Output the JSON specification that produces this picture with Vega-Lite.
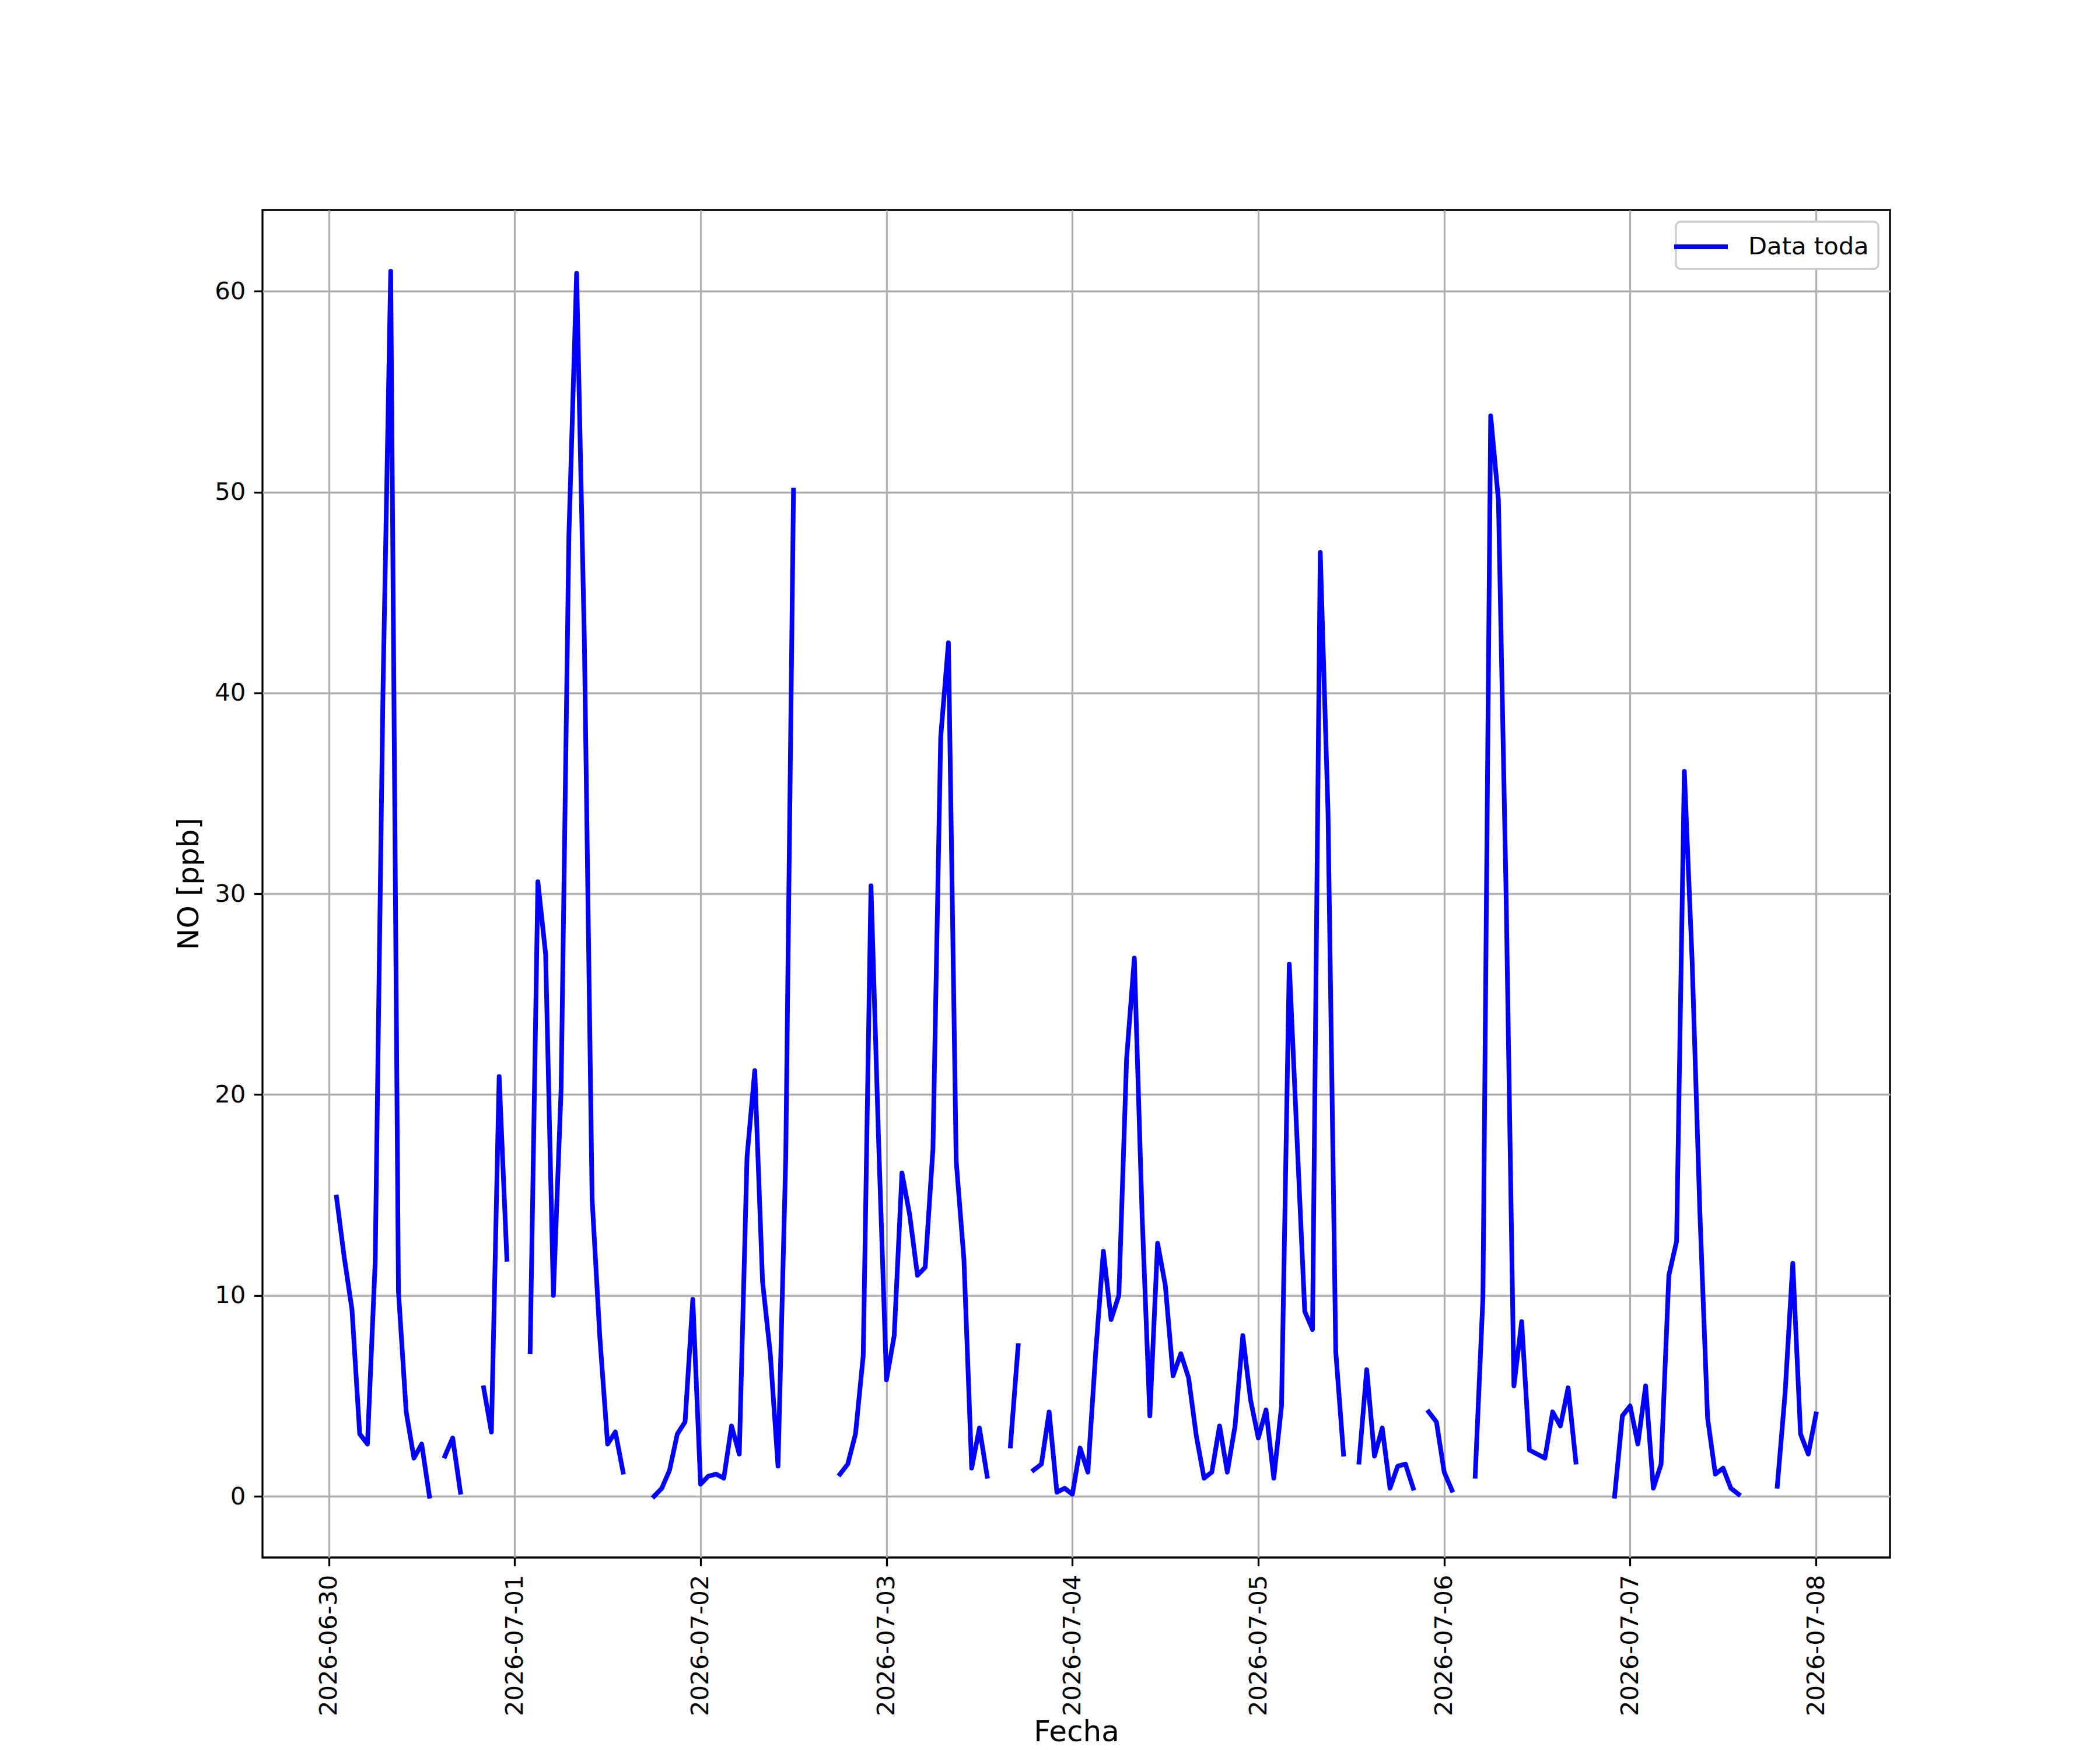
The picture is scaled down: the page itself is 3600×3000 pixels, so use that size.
{
  "$schema": "https://vega.github.io/schema/vega-lite/v6.json",
  "width": 2790,
  "height": 2310,
  "autosize": {"type": "none"},
  "padding": {"left": 450, "top": 360, "right": 360, "bottom": 330},
  "background": "white",
  "data": {"name": "no_data"},
  "datasets": {
    "no_data": [
      {"t": "2026-06-30T01:00", "no": 14.9}, {"t": "2026-06-30T02:00", "no": 11.9}, {"t": "2026-06-30T03:00", "no": 9.3},
      {"t": "2026-06-30T04:00", "no": 3.1}, {"t": "2026-06-30T05:00", "no": 2.6}, {"t": "2026-06-30T06:00", "no": 11.7},
      {"t": "2026-06-30T07:00", "no": 40.0}, {"t": "2026-06-30T08:00", "no": 61.0}, {"t": "2026-06-30T09:00", "no": 10.2},
      {"t": "2026-06-30T10:00", "no": 4.2}, {"t": "2026-06-30T11:00", "no": 1.9}, {"t": "2026-06-30T12:00", "no": 2.6},
      {"t": "2026-06-30T13:00", "no": 0.0}, {"t": "2026-06-30T14:00", "no": null}, {"t": "2026-06-30T15:00", "no": 2.0},
      {"t": "2026-06-30T16:00", "no": 2.9}, {"t": "2026-06-30T17:00", "no": 0.2}, {"t": "2026-06-30T18:00", "no": null},
      {"t": "2026-06-30T19:00", "no": null}, {"t": "2026-06-30T20:00", "no": 5.4}, {"t": "2026-06-30T21:00", "no": 3.2},
      {"t": "2026-06-30T22:00", "no": 20.9}, {"t": "2026-06-30T23:00", "no": 11.8},

      {"t": "2026-07-01T00:00", "no": null}, {"t": "2026-07-01T01:00", "no": null}, {"t": "2026-07-01T02:00", "no": 7.2},
      {"t": "2026-07-01T03:00", "no": 30.6}, {"t": "2026-07-01T04:00", "no": 27.0}, {"t": "2026-07-01T05:00", "no": 10.0},
      {"t": "2026-07-01T06:00", "no": 20.3}, {"t": "2026-07-01T07:00", "no": 47.8}, {"t": "2026-07-01T08:00", "no": 60.9},
      {"t": "2026-07-01T09:00", "no": 42.6}, {"t": "2026-07-01T10:00", "no": 14.8}, {"t": "2026-07-01T11:00", "no": 7.9},
      {"t": "2026-07-01T12:00", "no": 2.6}, {"t": "2026-07-01T13:00", "no": 3.2}, {"t": "2026-07-01T14:00", "no": 1.2},
      {"t": "2026-07-01T15:00", "no": null}, {"t": "2026-07-01T16:00", "no": null}, {"t": "2026-07-01T17:00", "no": null},
      {"t": "2026-07-01T18:00", "no": 0.0}, {"t": "2026-07-01T19:00", "no": 0.4}, {"t": "2026-07-01T20:00", "no": 1.3},
      {"t": "2026-07-01T21:00", "no": 3.1}, {"t": "2026-07-01T22:00", "no": 3.7}, {"t": "2026-07-01T23:00", "no": 9.8},

      {"t": "2026-07-02T00:00", "no": 0.6}, {"t": "2026-07-02T01:00", "no": 1.0}, {"t": "2026-07-02T02:00", "no": 1.1},
      {"t": "2026-07-02T03:00", "no": 0.9}, {"t": "2026-07-02T04:00", "no": 3.5}, {"t": "2026-07-02T05:00", "no": 2.1},
      {"t": "2026-07-02T06:00", "no": 16.9}, {"t": "2026-07-02T07:00", "no": 21.2}, {"t": "2026-07-02T08:00", "no": 10.7},
      {"t": "2026-07-02T09:00", "no": 7.1}, {"t": "2026-07-02T10:00", "no": 1.5}, {"t": "2026-07-02T11:00", "no": 16.9},
      {"t": "2026-07-02T12:00", "no": 50.1}, {"t": "2026-07-02T13:00", "no": null}, {"t": "2026-07-02T14:00", "no": null},
      {"t": "2026-07-02T15:00", "no": null}, {"t": "2026-07-02T16:00", "no": null}, {"t": "2026-07-02T17:00", "no": null},
      {"t": "2026-07-02T18:00", "no": 1.1}, {"t": "2026-07-02T19:00", "no": 1.6}, {"t": "2026-07-02T20:00", "no": 3.1},
      {"t": "2026-07-02T21:00", "no": 7.0}, {"t": "2026-07-02T22:00", "no": 30.4}, {"t": "2026-07-02T23:00", "no": 17.5},

      {"t": "2026-07-03T00:00", "no": 5.8}, {"t": "2026-07-03T01:00", "no": 8.0}, {"t": "2026-07-03T02:00", "no": 16.1},
      {"t": "2026-07-03T03:00", "no": 14.0}, {"t": "2026-07-03T04:00", "no": 11.0}, {"t": "2026-07-03T05:00", "no": 11.4},
      {"t": "2026-07-03T06:00", "no": 17.3}, {"t": "2026-07-03T07:00", "no": 37.8}, {"t": "2026-07-03T08:00", "no": 42.5},
      {"t": "2026-07-03T09:00", "no": 16.7}, {"t": "2026-07-03T10:00", "no": 11.8}, {"t": "2026-07-03T11:00", "no": 1.4},
      {"t": "2026-07-03T12:00", "no": 3.4}, {"t": "2026-07-03T13:00", "no": 1.0}, {"t": "2026-07-03T14:00", "no": null},
      {"t": "2026-07-03T15:00", "no": null}, {"t": "2026-07-03T16:00", "no": 2.5}, {"t": "2026-07-03T17:00", "no": 7.5},
      {"t": "2026-07-03T18:00", "no": null}, {"t": "2026-07-03T19:00", "no": 1.3}, {"t": "2026-07-03T20:00", "no": 1.6},
      {"t": "2026-07-03T21:00", "no": 4.2}, {"t": "2026-07-03T22:00", "no": 0.2}, {"t": "2026-07-03T23:00", "no": 0.4},

      {"t": "2026-07-04T00:00", "no": 0.1}, {"t": "2026-07-04T01:00", "no": 2.4}, {"t": "2026-07-04T02:00", "no": 1.2},
      {"t": "2026-07-04T03:00", "no": 7.1}, {"t": "2026-07-04T04:00", "no": 12.2}, {"t": "2026-07-04T05:00", "no": 8.8},
      {"t": "2026-07-04T06:00", "no": 10.0}, {"t": "2026-07-04T07:00", "no": 21.8}, {"t": "2026-07-04T08:00", "no": 26.8},
      {"t": "2026-07-04T09:00", "no": 14.0}, {"t": "2026-07-04T10:00", "no": 4.0}, {"t": "2026-07-04T11:00", "no": 12.6},
      {"t": "2026-07-04T12:00", "no": 10.5}, {"t": "2026-07-04T13:00", "no": 6.0}, {"t": "2026-07-04T14:00", "no": 7.1},
      {"t": "2026-07-04T15:00", "no": 5.9}, {"t": "2026-07-04T16:00", "no": 3.0}, {"t": "2026-07-04T17:00", "no": 0.9},
      {"t": "2026-07-04T18:00", "no": 1.2}, {"t": "2026-07-04T19:00", "no": 3.5}, {"t": "2026-07-04T20:00", "no": 1.2},
      {"t": "2026-07-04T21:00", "no": 3.5}, {"t": "2026-07-04T22:00", "no": 8.0}, {"t": "2026-07-04T23:00", "no": 4.8},

      {"t": "2026-07-05T00:00", "no": 2.9}, {"t": "2026-07-05T01:00", "no": 4.3}, {"t": "2026-07-05T02:00", "no": 0.9},
      {"t": "2026-07-05T03:00", "no": 4.5}, {"t": "2026-07-05T04:00", "no": 26.5}, {"t": "2026-07-05T05:00", "no": 17.8},
      {"t": "2026-07-05T06:00", "no": 9.2}, {"t": "2026-07-05T07:00", "no": 8.3}, {"t": "2026-07-05T08:00", "no": 47.0},
      {"t": "2026-07-05T09:00", "no": 34.1}, {"t": "2026-07-05T10:00", "no": 7.2}, {"t": "2026-07-05T11:00", "no": 2.1},
      {"t": "2026-07-05T12:00", "no": null}, {"t": "2026-07-05T13:00", "no": 1.7}, {"t": "2026-07-05T14:00", "no": 6.3},
      {"t": "2026-07-05T15:00", "no": 2.0}, {"t": "2026-07-05T16:00", "no": 3.4}, {"t": "2026-07-05T17:00", "no": 0.4},
      {"t": "2026-07-05T18:00", "no": 1.5}, {"t": "2026-07-05T19:00", "no": 1.6}, {"t": "2026-07-05T20:00", "no": 0.4},
      {"t": "2026-07-05T21:00", "no": null}, {"t": "2026-07-05T22:00", "no": 4.2}, {"t": "2026-07-05T23:00", "no": 3.7},

      {"t": "2026-07-06T00:00", "no": 1.2}, {"t": "2026-07-06T01:00", "no": 0.3}, {"t": "2026-07-06T02:00", "no": null},
      {"t": "2026-07-06T03:00", "no": null}, {"t": "2026-07-06T04:00", "no": 1.0}, {"t": "2026-07-06T05:00", "no": 9.9},
      {"t": "2026-07-06T06:00", "no": 53.8}, {"t": "2026-07-06T07:00", "no": 49.6}, {"t": "2026-07-06T08:00", "no": 29.8},
      {"t": "2026-07-06T09:00", "no": 5.5}, {"t": "2026-07-06T10:00", "no": 8.7}, {"t": "2026-07-06T11:00", "no": 2.3},
      {"t": "2026-07-06T12:00", "no": 2.1}, {"t": "2026-07-06T13:00", "no": 1.9}, {"t": "2026-07-06T14:00", "no": 4.2},
      {"t": "2026-07-06T15:00", "no": 3.5}, {"t": "2026-07-06T16:00", "no": 5.4}, {"t": "2026-07-06T17:00", "no": 1.7},
      {"t": "2026-07-06T18:00", "no": null}, {"t": "2026-07-06T19:00", "no": null}, {"t": "2026-07-06T20:00", "no": null},
      {"t": "2026-07-06T21:00", "no": null}, {"t": "2026-07-06T22:00", "no": 0.0}, {"t": "2026-07-06T23:00", "no": 4.0},

      {"t": "2026-07-07T00:00", "no": 4.5}, {"t": "2026-07-07T01:00", "no": 2.6}, {"t": "2026-07-07T02:00", "no": 5.5},
      {"t": "2026-07-07T03:00", "no": 0.4}, {"t": "2026-07-07T04:00", "no": 1.6}, {"t": "2026-07-07T05:00", "no": 11.0},
      {"t": "2026-07-07T06:00", "no": 12.7}, {"t": "2026-07-07T07:00", "no": 36.1}, {"t": "2026-07-07T08:00", "no": 26.7},
      {"t": "2026-07-07T09:00", "no": 14.2}, {"t": "2026-07-07T10:00", "no": 3.9}, {"t": "2026-07-07T11:00", "no": 1.1},
      {"t": "2026-07-07T12:00", "no": 1.4}, {"t": "2026-07-07T13:00", "no": 0.4}, {"t": "2026-07-07T14:00", "no": 0.1},
      {"t": "2026-07-07T15:00", "no": null}, {"t": "2026-07-07T16:00", "no": null}, {"t": "2026-07-07T17:00", "no": null},
      {"t": "2026-07-07T18:00", "no": null}, {"t": "2026-07-07T19:00", "no": 0.5}, {"t": "2026-07-07T20:00", "no": 5.1},
      {"t": "2026-07-07T21:00", "no": 11.6}, {"t": "2026-07-07T22:00", "no": 3.1}, {"t": "2026-07-07T23:00", "no": 2.1},

      {"t": "2026-07-08T00:00", "no": 4.1}
    ]
  },
  "mark": {
    "type": "line",
    "strokeWidth": 8,
    "strokeJoin": "round",
    "strokeCap": "square",
    "invalid": "break-paths-filter-domains"
  },
  "encoding": {
    "x": {
      "field": "t",
      "type": "temporal",
      "title": "Fecha",
      "scale": {
        "domain": [
          {"year": 2026, "month": 6, "date": 29, "hours": 15, "minutes": 27},
          {"year": 2026, "month": 7, "date": 8, "hours": 9, "minutes": 33}
        ],
        "nice": false
      },
      "axis": {
        "format": "%Y-%m-%d",
        "labelAngle": -90,
        "tickCount": {"interval": "day", "step": 1},
        "titleY": 314,
        "titleBaseline": "alphabetic"
      }
    },
    "y": {
      "field": "no",
      "type": "quantitative",
      "title": "NO [ppb]",
      "scale": {"domain": [-3.05, 64.05], "nice": false, "zero": false},
      "axis": {"values": [0, 10, 20, 30, 40, 50, 60], "titlePadding": 18}
    },
    "color": {
      "datum": "Data toda",
      "type": "nominal",
      "scale": {"range": ["#0000ff"]},
      "legend": {
        "title": null,
        "orient": "top-right",
        "offset": 20,
        "symbolType": "M-2,0H2",
        "symbolSize": 2116,
        "symbolStrokeWidth": 8,
        "labelOffset": 54,
        "padding": 16,
        "strokeColor": "#cccccc",
        "fillColor": "white",
        "cornerRadius": 8
      }
    }
  },
  "config": {
    "font": "DejaVu Sans",
    "view": {"stroke": "#000000", "strokeWidth": 3.3},
    "axis": {
      "domain": false,
      "grid": true,
      "gridColor": "#b0b0b0",
      "gridWidth": 3.3,
      "gridOpacity": 1,
      "ticks": true,
      "tickColor": "#000000",
      "tickSize": 14.6,
      "tickWidth": 3.3,
      "labelFont": "DejaVu Sans",
      "labelFontSize": 41.7,
      "labelColor": "#000000",
      "labelPadding": 14.6,
      "labelFlush": false,
      "labelOverlap": false,
      "labelLimit": 0,
      "titleFont": "DejaVu Sans",
      "titleFontSize": 50,
      "titleFontWeight": "normal",
      "titleColor": "#000000"
    },
    "legend": {
      "labelFont": "DejaVu Sans",
      "labelFontSize": 41.7,
      "labelColor": "#000000",
      "labelLimit": 0,
      "strokeWidth": 3.3
    }
  }
}
